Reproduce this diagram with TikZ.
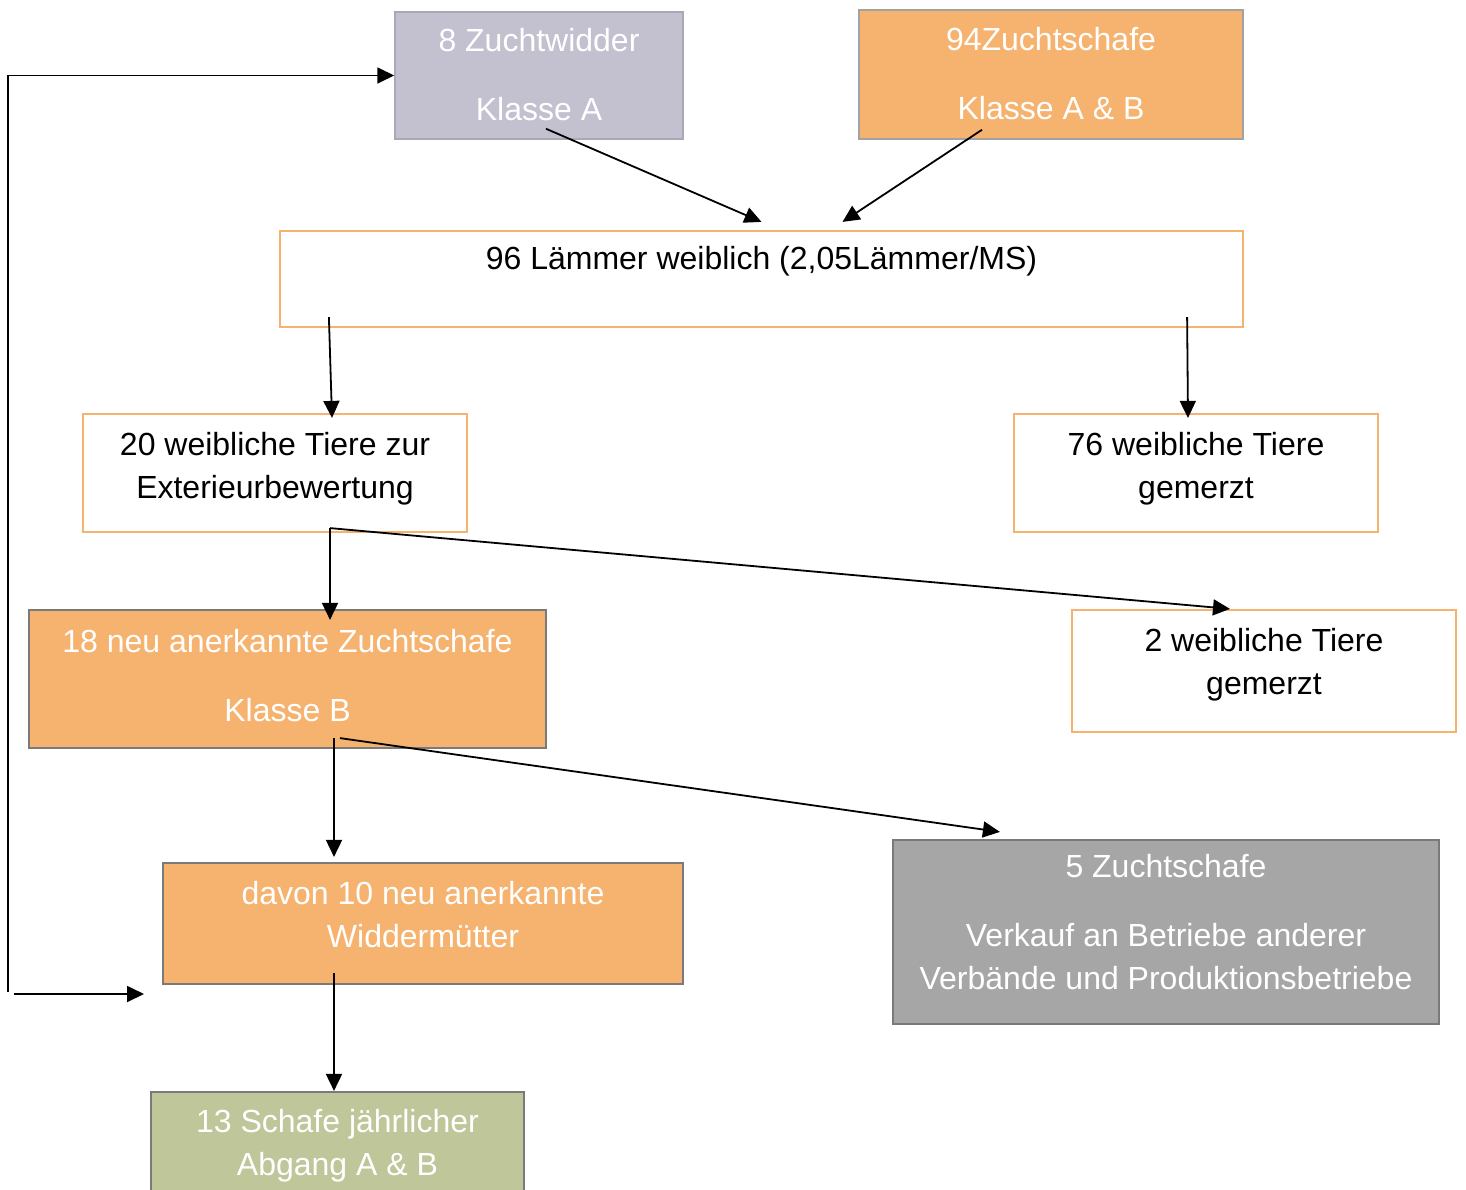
\documentclass[tikz,border=0pt]{standalone}
\usepackage{fontspec}
\setmainfont{Liberation Sans}
\usetikzlibrary{arrows.meta}

\definecolor{lila}{HTML}{C3C1CF}
\definecolor{lilaline}{HTML}{A9A8B4}
\definecolor{orange}{HTML}{F6B36F}
\definecolor{grau}{HTML}{A6A6A6}
\definecolor{grauline}{HTML}{7A7A7A}
\definecolor{oliv}{HTML}{BFC699}

\tikzset{
  box/.style={rectangle, inner sep=0pt, align=center,
    font=\fontsize{32}{43}\selectfont},
  lilabox/.style={box, fill=lila, draw=lilaline, line width=1.5, text=white},
  orangebox/.style={box, fill=orange, draw=grauline!70, line width=1.5, text=white},
  orangedark/.style={box, fill=orange, draw=grauline, line width=2.2, text=white},
  whitebox/.style={box, fill=white, draw=orange, line width=2.2, text=black},
  graubox/.style={box, fill=grau, draw=grauline, line width=2.2, text=white},
  olivbox/.style={box, fill=oliv, draw=grauline, line width=2.2, text=white},
  flow/.style={-{Triangle[length=17pt, width=16pt]}, line width=1.8}
}

\begin{document}
\begin{tikzpicture}[x=1pt, y=-1pt]
\useasboundingbox (0,0) rectangle (1466,1189);

\node (widder) at (539, 75.5) [lilabox, minimum width=288, minimum height=127, text depth=2] {8 Zuchtwidder\\[26pt]Klasse A};
\node (schafe) at (1051, 74.5) [orangebox, minimum width=384, minimum height=129, text depth=3] {94Zuchtschafe\\[26pt]Klasse A \& B};

\node (laemmer) at (761.5, 279) [whitebox, minimum width=963, minimum height=96] {96 Lämmer weiblich (2,05Lämmer/MS)\\ \mbox{}};

\node (ext) at (275, 473) [whitebox, minimum width=384, minimum height=118, text depth=15] {20 weibliche Tiere zur\\Exterieurbewertung};
\node (gem76) at (1196, 473) [whitebox, minimum width=364, minimum height=118, text depth=15] {76 weibliche Tiere\\gemerzt};

\node (neu18) at (287.5, 679) [orangedark, minimum width=517, minimum height=138, text depth=8] {18 neu anerkannte Zuchtschafe\\[26pt]Klasse B};
\node (gem2) at (1264, 671) [whitebox, minimum width=384, minimum height=122, text depth=20] {2 weibliche Tiere\\gemerzt};

\node (mutter) at (423, 923.5) [orangedark, minimum width=520, minimum height=121, text depth=18] {davon 10 neu anerkannte\\Widdermütter};
\node (verkauf) at (1166, 932) [graubox, minimum width=546, minimum height=184, text depth=21] {5 Zuchtschafe\\[26pt]Verkauf an Betriebe anderer\\Verbände und Produktionsbetriebe};

\node (abgang) at (337.5, 1146) [olivbox, minimum width=373, minimum height=108] {13 Schafe jährlicher\\Abgang A \& B};

% Zucht -> Laemmer
\draw[flow] ([shift={(7,-11)}]widder.south) -- ([shift={(0,-8)}]laemmer.north);
\draw[flow] ([shift={(-69,-10)}]schafe.south) -- ([shift={(81,-8)}]laemmer.north);

\draw[flow] ([shift={(50,-11)}]laemmer.south west) -- ([shift={(57,5)}]ext.north);
\draw[flow] ([shift={(-57,-11)}]laemmer.south east) -- ([shift={(-8,5)}]gem76.north);

\draw[flow] ([shift={(55,-5)}]ext.south) -- ([shift={(42.5,11)}]neu18.north);
\draw[flow] ([shift={(55,-5)}]ext.south) -- ([shift={(-34,0)}]gem2.north);

\draw[flow] ([shift={(46.5,-11)}]neu18.south) -- ([shift={(-89,-5)}]mutter.north);
\draw[flow] ([shift={(52.5,-11)}]neu18.south) -- ([shift={(108,-7)}]verkauf.north west);

\draw[flow] ([shift={(-89,-12)}]mutter.south) -- ([shift={(-3.5,0)}]abgang.north);

% Rueckfuehrung
\coordinate (loopbot) at (8, 992);
\draw[flow] (loopbot) |- (widder.west);
\coordinate (backstart) at (14, 994);
\coordinate (backtip) at (144, 994);
\draw[flow] (backstart) -- (backtip);
\end{tikzpicture}
\end{document}
